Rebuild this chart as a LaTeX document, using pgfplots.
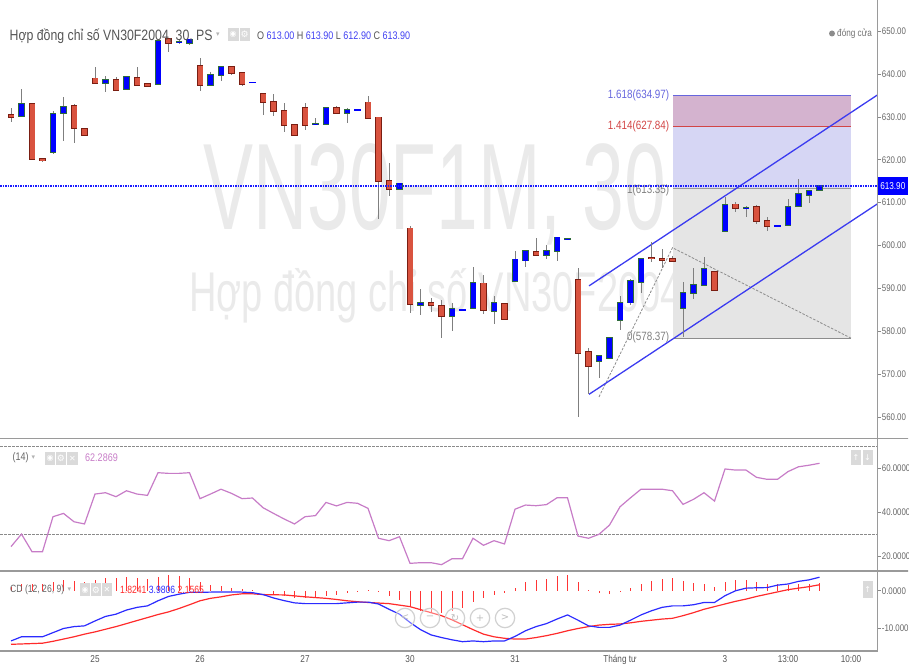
\documentclass[border=0pt]{standalone}
\usepackage{pgfplots}
\pgfplotsset{compat=1.18}
\usepackage{pgfplotstable}
\usepackage{fontspec}
\setmainfont[FakeStretch=0.82]{Liberation Sans}
\newfontfamily\wmA[FakeStretch=0.61]{Liberation Sans}
\newfontfamily\wmB[FakeStretch=0.68]{Liberation Sans}
\newfontfamily\sym{DejaVu Sans}

\definecolor{upfill}{HTML}{0000FF}
\definecolor{upedge}{HTML}{2E6B3A}
\definecolor{dnfill}{HTML}{D9533F}
\definecolor{dnedge}{HTML}{7A1E12}
\definecolor{wick}{HTML}{7F7F7F}
\definecolor{txtgray}{HTML}{555555}
\definecolor{ticktext}{HTML}{666666}
\definecolor{tickc}{HTML}{888888}
\definecolor{framec}{HTML}{9A9A9A}
\definecolor{wm}{HTML}{EAEAEA}
\definecolor{rsic}{HTML}{C77CC7}
\definecolor{fibgray}{HTML}{E5E5E5}
\definecolor{fiblav}{HTML}{D6D6F4}
\definecolor{fibpink}{HTML}{D4B3CF}
\definecolor{fibblue}{HTML}{6666DD}
\definecolor{fibred}{HTML}{D24545}
\definecolor{chan}{HTML}{3B3BF0}
\definecolor{ohlcblue}{HTML}{4040F2}
\definecolor{macdblue}{HTML}{2B2BFF}
\definecolor{macdred}{HTML}{FF2B2B}
\definecolor{histred}{HTML}{FF3535}
\definecolor{iconc}{HTML}{DADADA}
\definecolor{dashc}{HTML}{8A8A8A}
\definecolor{lastblue}{HTML}{1A1AFF}

\pgfplotstableread{
i O H L C
-7 630.2 636.5 630.0 633.0
-4 621.9 631.3 621.4 630.8
-3 631.0 634.7 624.5 632.3
1 638.0 639.6 635.9 638.6
3 636.6 639.6 636.3 639.4
6 637.7 648.0 637.5 647.8
8 647.5 648.0 646.9 647.6
9 647.3 648.2 646.9 648.1
11 637.5 640.4 637.3 639.8
12 639.8 641.9 638.4 641.7
21 628.2 629.7 628.1 628.4
22 628.3 632.4 628.1 632.2
24 630.8 632.0 628.5 631.6
29 613.2 614.6 613.0 614.5
31 586.1 589.8 583.8 586.7
34 583.6 586.5 580.1 585.3
36 585.3 594.9 585.1 591.4
38 584.7 588.2 581.6 586.7
40 591.7 598.8 591.5 596.8
41 596.5 599.0 595.1 598.8
43 597.8 600.1 596.9 598.8
44 598.7 602.1 596.4 601.9
45 601.5 601.7 601.4 601.6
48 573.0 574.5 569.0 574.2
49 573.8 578.5 573.6 578.4
50 582.6 588.3 580.4 586.7
51 586.7 592.3 586.2 591.7
52 591.4 597.2 589.0 597.0
56 585.4 591.6 578.7 589.0
57 588.9 594.8 587.5 590.8
58 590.8 597.3 590.6 594.5
60 603.4 611.4 603.2 609.6
62 608.8 609.3 606.7 608.9
66 604.8 610.9 604.6 609.1
67 609.2 615.5 609.0 612.0
68 611.8 612.9 609.9 612.7
69 613.0 613.9 612.9 613.9
}\upT

\pgfplotstableread{
i O H L C
-8 630.4 632.2 628.9 630.0
-6 633.1 633.3 620.0 620.1
-5 620.2 620.3 619.6 619.8
-2 632.6 633.1 624.0 627.3
-1 627.2 627.3 625.6 625.7
0 639.0 641.7 637.6 637.8
2 638.6 639.4 636.1 636.3
4 639.2 641.6 637.3 637.5
5 637.8 637.9 637.0 637.2
7 648.2 648.4 645.2 647.2
10 642.0 643.8 636.1 637.5
13 641.7 641.9 639.8 640.2
14 640.3 640.5 637.2 637.7
16 635.3 635.5 630.5 633.5
17 633.6 635.4 630.3 631.3
18 631.5 633.2 626.4 628.0
19 628.1 628.4 625.6 625.7
20 632.2 633.2 627.0 628.0
23 632.2 632.5 630.6 630.8
26 633.4 634.9 629.5 629.7
27 629.9 630.1 606.3 615.1
28 615.1 619.2 611.6 613.2
30 604.0 604.6 584.3 586.4
32 586.7 587.7 584.6 586.1
33 585.9 587.3 578.5 583.6
37 591.2 593.1 584.0 585.0
39 586.3 586.6 582.7 582.8
42 598.5 601.8 597.6 597.8
46 592.1 594.8 560.1 575.0
47 575.2 576.1 565.3 571.9
53 597.1 600.8 596.2 597.0
54 597.0 599.2 594.7 596.6
55 596.8 597.5 596.2 596.4
59 593.8 594.0 589.4 589.6
61 609.6 610.1 607.9 608.7
63 609.1 609.5 605.1 605.6
64 605.7 606.6 603.4 604.5
}\downT

\pgfplotstableread{
i O H L C
15 638.1 638.1 638.1 638.1
25 631.6 631.6 631.6 631.6
35 585.0 585.0 585.0 585.0
65 604.6 604.6 604.6 604.6
}\flatT

\pgfplotstableread{
i v
-8 24.4
-7 30.1
-6 22.1
-5 22.1
-4 38.0
-3 39.5
-2 35.7
-1 34.7
0 48.3
1 48.9
2 47.1
3 49.8
4 48.3
5 47.7
6 58.0
7 57.7
8 57.7
9 58.0
10 46.2
11 48.3
12 50.5
13 48.6
14 46.2
15 46.5
16 42.1
17 39.5
18 37.0
19 34.7
20 38.0
21 38.5
22 44.5
23 42.9
24 44.5
25 44.1
26 41.8
27 28.2
28 27.1
29 28.9
30 16.8
31 17.1
32 17.1
33 16.2
34 18.9
35 18.9
36 28.2
37 25.0
38 27.1
39 25.6
40 41.4
41 43.3
42 43.0
43 43.5
44 46.6
45 46.6
46 29.2
47 28.2
48 30.0
49 34.2
50 42.5
51 46.6
52 50.5
53 50.5
54 50.5
55 49.8
56 43.6
57 45.9
58 48.9
59 45.1
60 59.7
61 59.2
62 59.2
63 55.9
64 55.0
65 55.0
66 58.5
67 60.7
68 61.4
69 62.29
}\rsiT

\pgfplotstableread{
i m s
-8 -13.3 -14.2
-7 -12.2 -14.1
-6 -12.2 -14.0
-5 -12.2 -13.9
-4 -11.1 -13.4
-3 -10.0 -12.8
-2 -9.5 -12.2
-1 -9.3 -11.5
0 -8.0 -10.9
1 -6.8 -10.2
2 -6.2 -9.5
3 -5.1 -8.7
4 -4.4 -7.9
5 -4.0 -7.1
6 -2.65 -6.3
7 -1.5 -5.6
8 -0.9 -4.7
9 -0.4 -3.7
10 -0.4 -2.65
11 -0.35 -2.0
12 -0.3 -1.6
13 -0.3 -1.1
14 -0.35 -0.8
15 -0.5 -0.8
16 -1.0 -1.0
17 -1.9 -1.05
18 -2.6 -1.1
19 -3.2 -1.35
20 -3.4 -1.6
21 -3.4 -1.8
22 -3.4 -2.0
23 -3.4 -2.3
24 -3.2 -2.65
25 -3.0 -2.9
26 -3.0 -3.1
27 -3.5 -3.25
28 -4.9 -3.4
29 -6.2 -3.8
30 -8.4 -4.2
31 -10.3 -5.0
32 -11.7 -5.8
33 -12.4 -6.6
34 -13.0 -7.7
35 -13.5 -9.0
36 -13.3 -10.3
37 -13.5 -11.5
38 -13.3 -12.2
39 -13.3 -12.6
40 -12.1 -12.8
41 -10.6 -12.8
42 -9.5 -12.4
43 -8.7 -11.9
44 -7.5 -11.3
45 -6.4 -10.6
46 -7.8 -10.0
47 -9.3 -9.5
48 -9.7 -9.1
49 -9.7 -8.9
50 -9.1 -8.8
51 -7.8 -8.5
52 -6.4 -8.1
53 -5.3 -7.8
54 -4.4 -7.5
55 -4.0 -7.3
56 -4.0 -6.6
57 -3.7 -5.8
58 -3.1 -4.9
59 -3.1 -4.2
60 -1.3 -3.5
61 0.0 -2.8
62 0.7 -2.2
63 0.8 -1.5
64 0.85 -0.9
65 1.5 -0.3
66 1.8 0.3
67 2.5 0.7
68 2.9 1.1
69 3.6 1.6
}\macdT

\pgfplotsset{
  panel/.style={scale only axis, anchor=south west,
    xmin=-9.048, xmax=74.476,
    axis line style={draw=none}, xtick=\empty,
    ytick pos=right, yticklabel pos=right, tick align=outside,
    major tick length=3.5pt,
    tick style={draw=tickc, line width=0.7pt},
    yticklabel style={font=\fontsize{9.6}{10}\selectfont, text=ticktext, inner sep=1.2pt},
  },
  wickbar/.style={draw=none, mark=none, forget plot,
    error bars/.cd, y dir=both, y explicit, error mark=none,
    error bar style={draw=wick, line width=0.9pt, line cap=butt}},
  bodybar/.style 2 args={draw=none, mark=none, forget plot,
    error bars/.cd, y dir=both, y explicit, error mark=none,
    error bar style={draw=#1, line width=#2, line cap=butt}},
}

\begin{document}
\begin{tikzpicture}
\useasboundingbox (0pt,0pt) rectangle (921pt,664pt);

% watermarks (behind everything)
\begin{scope}[x=1pt,y=-1pt,yshift=664pt]
  \node[anchor=base west, inner sep=0, text=wm, font=\wmA\fontsize{123}{123}\selectfont] at (203,230) {VN30F1M, 30};
  \node[anchor=base west, inner sep=0, text=wm, font=\wmB\fontsize{56}{56}\selectfont] at (189,311.7) {Hợp đồng chỉ số VN30F2004};
\end{scope}

\begin{scope}
\clip (0pt,0pt) rectangle (908pt,664pt);

% ---------------- price panel ----------------
\begin{axis}[panel, at={(0pt,226pt)}, width=877pt, height=438pt,
  ymin=555.11, ymax=657.28,
  ytick={560,570,580,590,600,610,620,630,640,650},
  yticklabels={560.00,570.00,580.00,590.00,600.00,610.00,620.00,630.00,640.00,650.00}]
  % fibonacci box
  \addplot[draw=none, fill=fibgray, forget plot] coordinates {(55.05,578.37) (72,578.37) (72,613.35) (55.05,613.35)} -- cycle;
  \addplot[draw=none, fill=fiblav, forget plot] coordinates {(55.05,613.35) (72,613.35) (72,627.84) (55.05,627.84)} -- cycle;
  \addplot[draw=none, fill=fibpink, forget plot] coordinates {(55.05,627.84) (72,627.84) (72,634.97) (55.05,634.97)} -- cycle;
  \addplot[fibblue, line width=1.2pt, forget plot] coordinates {(55.05,634.97) (72,634.97)};
  \addplot[fibred, line width=1pt, forget plot] coordinates {(55.05,627.84) (72,627.84)};
  \addplot[black!40, line width=1.5pt, forget plot] coordinates {(55.05,613.35) (72,613.35)};
  \addplot[black!45, line width=1pt, forget plot] coordinates {(55.05,578.37) (72,578.37)};
  \node[anchor=east, inner sep=1pt, text=fibblue, font=\fontsize{12}{12}\selectfont] at (axis cs:54.8,634.97) {1.618(634.97)};
  \node[anchor=east, inner sep=1pt, text=fibred, font=\fontsize{12}{12}\selectfont] at (axis cs:54.8,627.84) {1.414(627.84)};
  \node[anchor=east, inner sep=1pt, text=black!50, font=\fontsize{12}{12}\selectfont] at (axis cs:54.8,612.9) {1(613.35)};
  \node[anchor=east, inner sep=1pt, text=black!50, font=\fontsize{12}{12}\selectfont] at (axis cs:54.8,578.6) {0(578.37)};
  % fib anchor dashed lines
  \addplot[black!45, line width=0.8pt, dash pattern=on 2.5pt off 1.5pt, forget plot] coordinates {(48,564.7) (55,599.5) (72,578.4)};
  % channel
  \addplot[chan, line width=1.3pt, forget plot] coordinates {(47.05,590.6) (74.5,635.1)};
  \addplot[chan, line width=1.3pt, forget plot] coordinates {(47.05,565.3) (74.5,609.7)};
  % wicks
  \addplot[wickbar] table[x=i, y expr={(\thisrow{H}+\thisrow{L})/2}, y error expr={(\thisrow{H}-\thisrow{L})/2}] {\upT};
  \addplot[wickbar] table[x=i, y expr={(\thisrow{H}+\thisrow{L})/2}, y error expr={(\thisrow{H}-\thisrow{L})/2}] {\downT};
  % bodies: edge then fill
  \addplot[bodybar={upedge}{6.6pt}] table[x=i, y expr={(\thisrow{O}+\thisrow{C})/2}, y error expr={abs(\thisrow{C}-\thisrow{O})/2+0.19}] {\upT};
  \addplot[bodybar={upfill}{5pt}] table[x=i, y expr={(\thisrow{O}+\thisrow{C})/2}, y error expr={max(abs(\thisrow{C}-\thisrow{O})/2-0.02,0.001)}] {\upT};
  \addplot[bodybar={dnedge}{6.6pt}] table[x=i, y expr={(\thisrow{O}+\thisrow{C})/2}, y error expr={abs(\thisrow{C}-\thisrow{O})/2+0.19}] {\downT};
  \addplot[bodybar={dnfill}{5pt}] table[x=i, y expr={(\thisrow{O}+\thisrow{C})/2}, y error expr={max(abs(\thisrow{C}-\thisrow{O})/2-0.02,0.001)}] {\downT};
  \addplot[bodybar={upfill}{6.6pt}] table[x=i, y expr={(\thisrow{O}+\thisrow{C})/2}, y error expr={0.17}] {\flatT};
  % last price line
  \addplot[lastblue, line width=1.1pt, dash pattern=on 1.5pt off 1pt, forget plot] coordinates {(-9.048,613.9) (74.476,613.9)};
\end{axis}

% ---------------- RSI panel ----------------
\begin{axis}[panel, at={(0pt,93pt)}, width=877pt, height=132pt,
  ymin=13.32, ymax=73.32, ytick={20,40,60}, yticklabels={20.0000,40.0000,60.0000}]
  \addplot[dashc, line width=0.8pt, dash pattern=on 2.5pt off 1.5pt, forget plot] coordinates {(-9.048,70) (74.476,70)};
  \addplot[dashc, line width=0.8pt, dash pattern=on 2.5pt off 1.5pt, forget plot] coordinates {(-9.048,30) (74.476,30)};
  \addplot[rsic, line width=1.2pt, mark=none] table[x=i, y=v] {\rsiT};
\end{axis}

% ---------------- MACD panel ----------------
\begin{axis}[panel, at={(0pt,13pt)}, width=877pt, height=80pt,
  ymin=-15.97, ymax=5.25, ytick={-10,0}, yticklabels={-10.000,0.0000},
  xtick={0,10,20,30,40,50,60,66,72},
  xticklabels={25,26,27,30,31,Tháng tư,3,13:00,10:00},
  xtick style={draw=none},
  xticklabel style={font=\fontsize{10}{10}\selectfont, text=txtgray, inner sep=0.5pt}]
  \addplot[ycomb, histred, line width=0.9pt, mark=none] table[x=i, y expr={\thisrow{m}-\thisrow{s}}] {\macdT};
  \addplot[macdred, line width=1.2pt, mark=none] table[x=i, y=s] {\macdT};
  \addplot[macdblue, line width=1.2pt, mark=none] table[x=i, y=m] {\macdT};
\end{axis}

% ---------------- frame and UI (pixel coords) ----------------
\begin{scope}[x=1pt,y=-1pt,yshift=664pt]
  \draw[framec, line width=1.4pt] (877.5,0) -- (877.5,651);
  \draw[framec, line width=1.6pt] (0,438.5) -- (921,438.5);
  \draw[framec, line width=1.6pt] (0,571.2) -- (921,571.2);
  \draw[framec, line width=1.6pt] (0,651) -- (877.5,651);
  % price label
  \fill[blue] (877.5,177.5) rectangle (908,195.5);
  \node[text=white, inner sep=0, font=\fontsize{10}{10}\selectfont] at (892.8,186.5) {613.90};
  % title
  \node[anchor=base west, inner sep=0, text=txtgray, font=\fontsize{15}{15}\selectfont] at (9.5,41) {Hợp đồng chỉ số VN30F2004, 30, PS};
  \node[text=black!30, inner sep=0, font=\sym\fontsize{7}{7}\selectfont] at (218,35) {▾};
  \fill[iconc] (228,28.5) rectangle (238.5,41);
  \fill[iconc] (239.5,28.5) rectangle (250,41);
  \node[text=white, inner sep=0, font=\sym\fontsize{8}{8}\selectfont] at (233.2,34.8) {◉};
  \node[text=white, inner sep=0, font=\sym\fontsize{9}{9}\selectfont] at (244.7,34.8) {⚙};
  \node[anchor=base west, inner sep=0, font=\fontsize{11}{11}\selectfont] at (257,39.8)
    {\textcolor{txtgray}{O} \textcolor{ohlcblue}{613.00} \textcolor{txtgray}{H} \textcolor{ohlcblue}{613.90} \textcolor{txtgray}{L} \textcolor{ohlcblue}{612.90} \textcolor{txtgray}{C} \textcolor{ohlcblue}{613.90}};
  \fill[black!45] (832,33.5) circle (3);
  \node[anchor=west, inner sep=0, text=black!55, font=\fontsize{10}{10}\selectfont] at (837,33.5) {đóng cửa};
  % RSI header
  \node[anchor=west, inner sep=0, text=black!60, font=\fontsize{11}{11}\selectfont] at (12.5,458) {(14)};
  \node[text=black!30, inner sep=0, font=\sym\fontsize{7}{7}\selectfont] at (33.5,458) {▾};
  \fill[iconc] (45,452) rectangle (55,465);
  \fill[iconc] (56,452) rectangle (66,465);
  \fill[iconc] (67,452) rectangle (78,465);
  \node[text=white, inner sep=0, font=\sym\fontsize{8}{8}\selectfont] at (50,458.5) {◉};
  \node[text=white, inner sep=0, font=\sym\fontsize{9}{9}\selectfont] at (61,458.5) {⚙};
  \node[text=white, inner sep=0, font=\sym\fontsize{8}{8}\selectfont] at (72.5,458.5) {✕};
  \node[anchor=west, inner sep=0, text=rsic, font=\fontsize{11}{11}\selectfont] at (85,458) {62.2869};
  \fill[iconc] (851,450) rectangle (861,465);
  \fill[iconc] (862.5,450) rectangle (872.5,465);
  \node[text=white, inner sep=0, font=\sym\fontsize{8}{8}\selectfont] at (856,457.5) {↑};
  \node[text=white, inner sep=0, font=\sym\fontsize{8}{8}\selectfont] at (867.5,457.5) {↓};
  % MACD header
  \node[anchor=west, inner sep=0, text=black!60, font=\fontsize{10.5}{10.5}\selectfont] at (10,590) {CD (12, 26, 9)};
  \node[text=black!30, inner sep=0, font=\sym\fontsize{7}{7}\selectfont] at (69.5,590) {▾};
  \fill[iconc] (80,583.5) rectangle (90,596.5);
  \fill[iconc] (91,583.5) rectangle (101,596.5);
  \fill[iconc] (102,583.5) rectangle (112,596.5);
  \node[text=white, inner sep=0, font=\sym\fontsize{8}{8}\selectfont] at (85,590) {◉};
  \node[text=white, inner sep=0, font=\sym\fontsize{9}{9}\selectfont] at (96,590) {⚙};
  \node[text=white, inner sep=0, font=\sym\fontsize{8}{8}\selectfont] at (107,590) {✕};
  \node[anchor=west, inner sep=0, font=\fontsize{10.5}{10.5}\selectfont] at (120,590)
    {\textcolor{macdred}{1.8241} \textcolor{macdblue}{3.9806} \textcolor{macdred}{2.1565}};
  \fill[iconc] (863,581) rectangle (872.5,598);
  \node[text=white, inner sep=0, font=\sym\fontsize{8}{8}\selectfont] at (867.7,589.5) {↑};
  % navigation circles
  \foreach \xx/\ss in {405/<,430/−,455/↻,480/+,505/>}{
    \draw[black!18, line width=1.2pt, fill=white, fill opacity=0.35] (\xx,618) circle (9.7);
    \node[text=black!25, inner sep=0, font=\sym\fontsize{10}{10}\selectfont] at (\xx,618) {\ss};
  }
\end{scope}
\end{scope}
\end{tikzpicture}
\end{document}
